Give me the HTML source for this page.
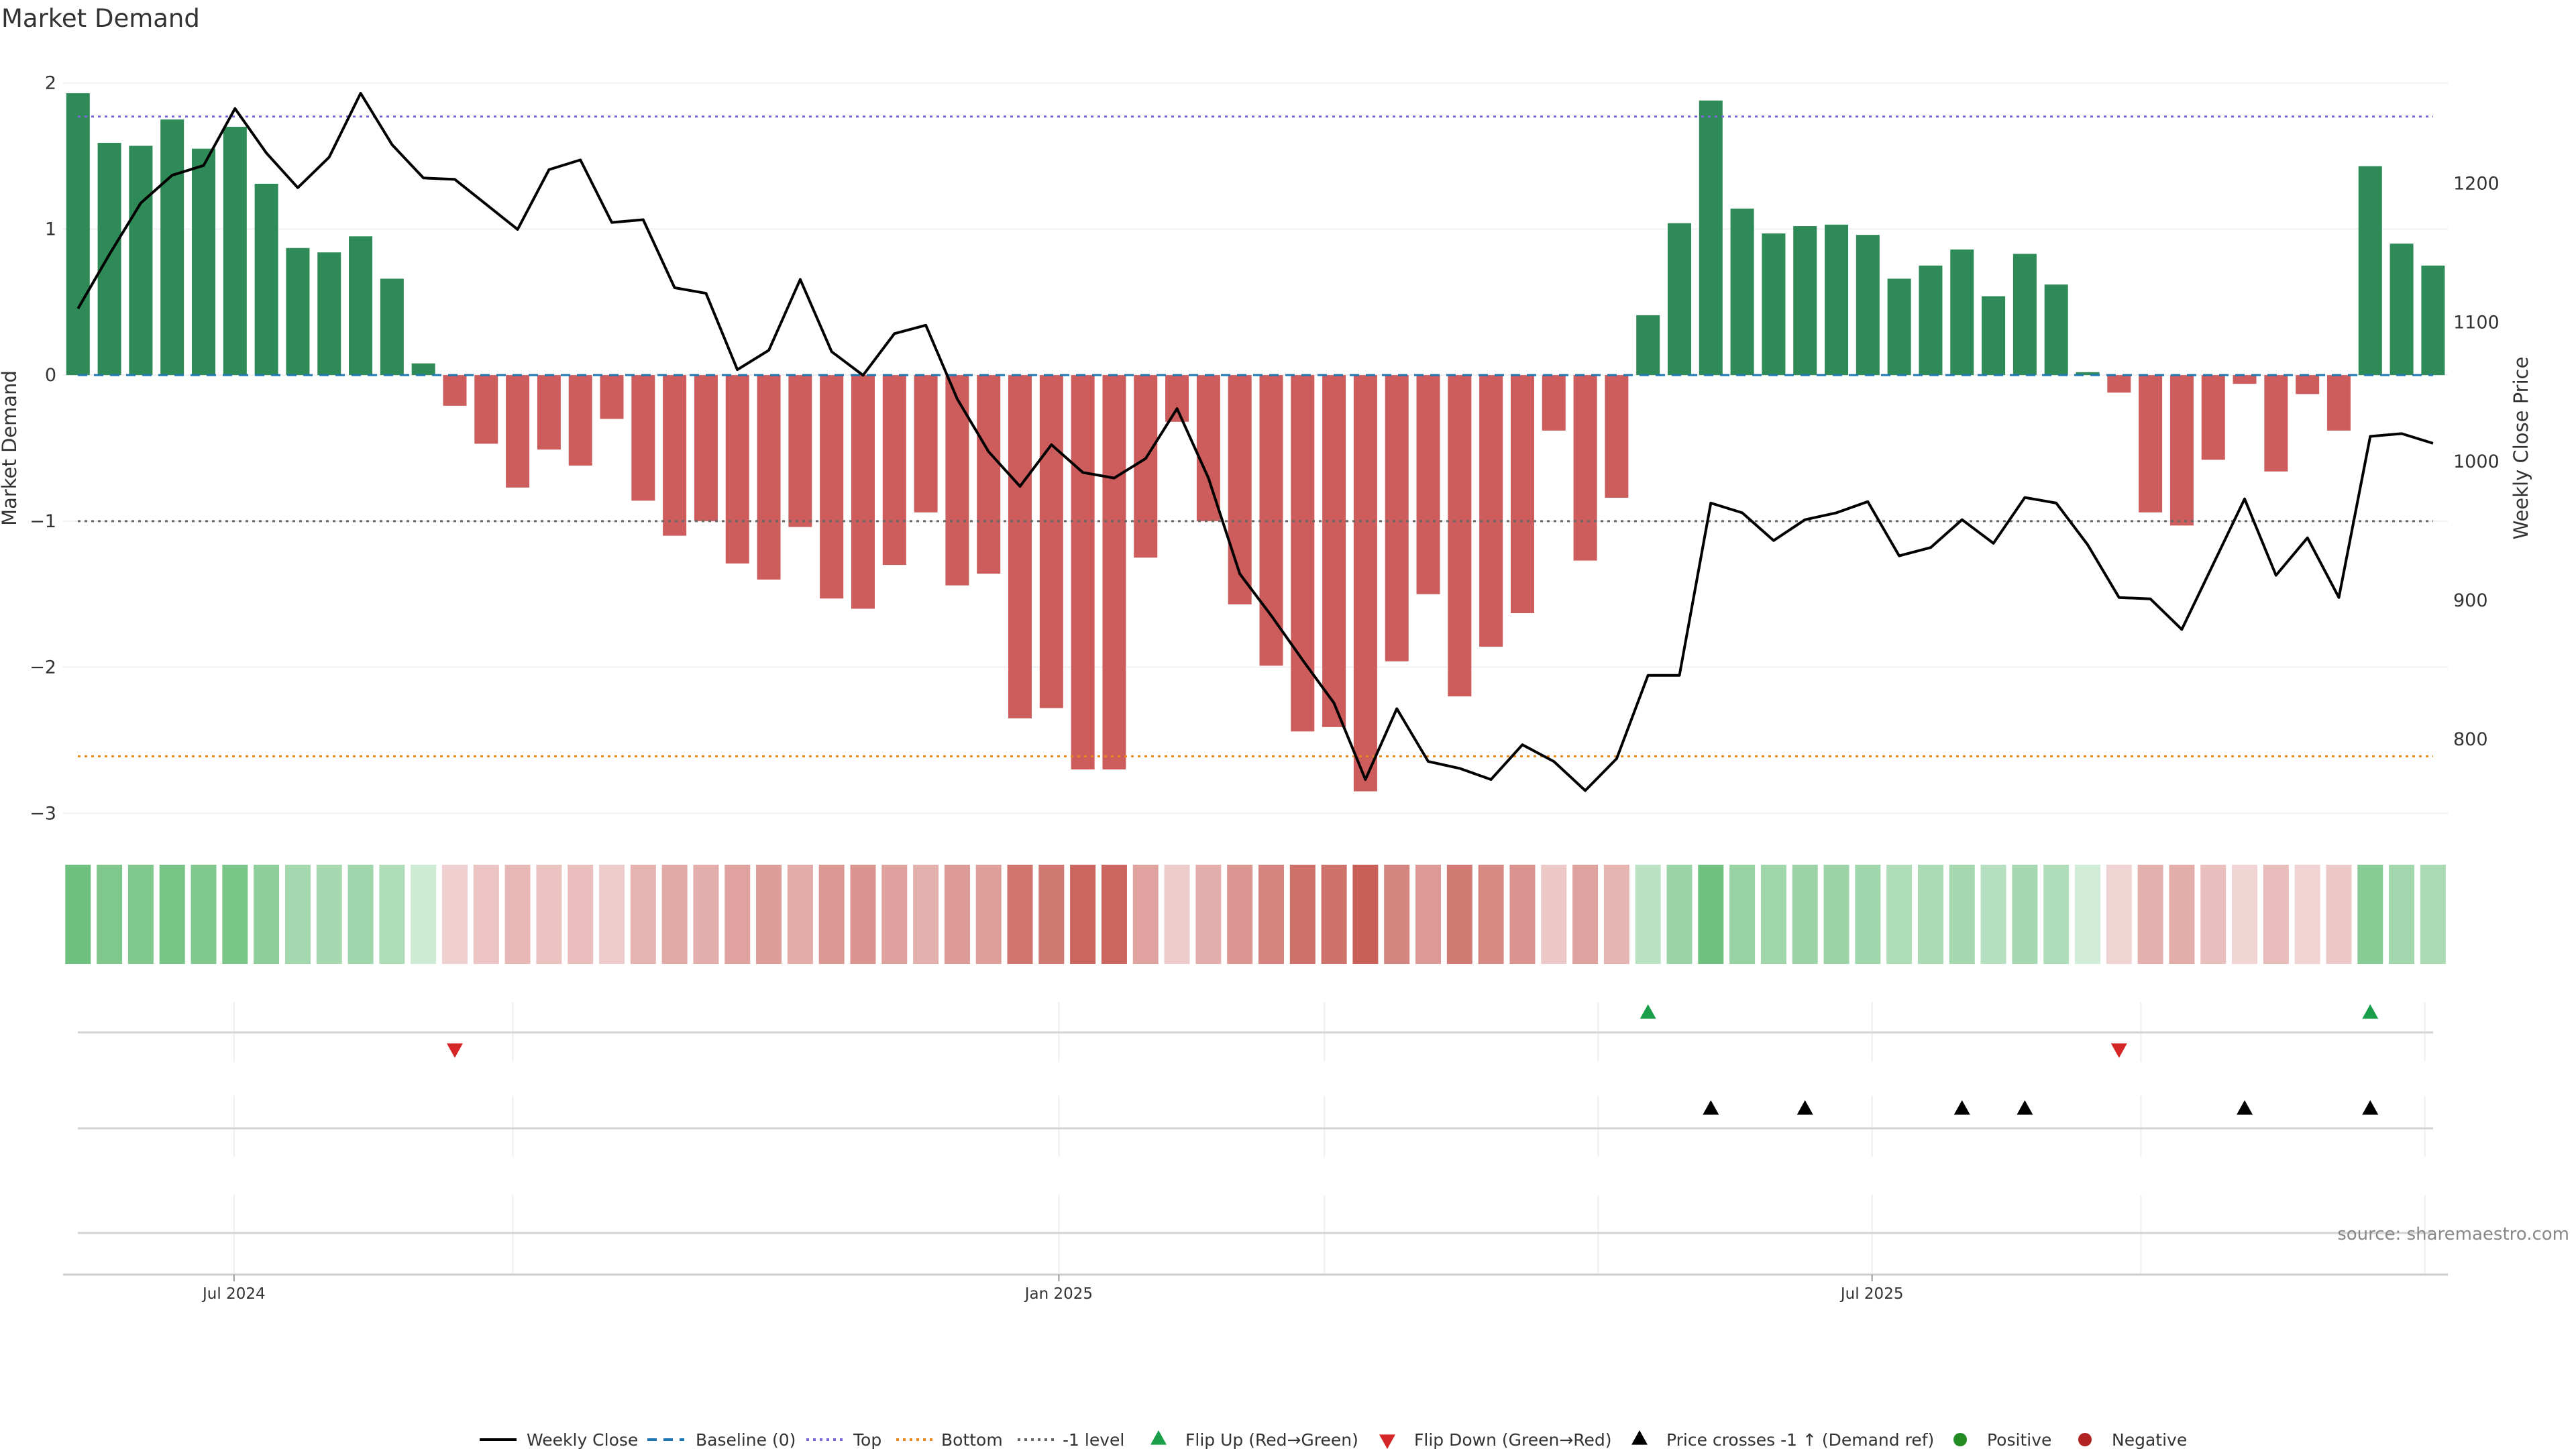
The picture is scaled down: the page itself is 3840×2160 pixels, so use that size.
<!DOCTYPE html>
<html><head><meta charset="utf-8">
<style>
html,body{margin:0;padding:0;background:#fff;}
svg{display:block;font-family:"DejaVu Sans","Liberation Sans",sans-serif;}
</style></head>
<body>
<svg id="chart" width="3840" height="2160" viewBox="0 0 3840 2160" xmlns="http://www.w3.org/2000/svg">
<text x="2" y="40" font-size="37" fill="#333">Market Demand</text>
<g id="main"></g>
</svg>
<script>
const demand=[1.93,1.59,1.57,1.75,1.55,1.70,1.31,0.87,0.84,0.95,0.66,0.08,-0.21,-0.47,-0.77,-0.51,-0.62,-0.30,-0.86,-1.10,-1.00,-1.29,-1.40,-1.04,-1.53,-1.60,-1.30,-0.94,-1.44,-1.36,-2.35,-2.28,-2.70,-2.70,-1.25,-0.32,-1.00,-1.57,-1.99,-2.44,-2.41,-2.85,-1.96,-1.50,-2.20,-1.86,-1.63,-0.38,-1.27,-0.84,0.41,1.04,1.88,1.14,0.97,1.02,1.03,0.96,0.66,0.75,0.86,0.54,0.83,0.62,0.02,-0.12,-0.94,-1.03,-0.58,-0.06,-0.66,-0.13,-0.38,1.43,0.90,0.75];
const price=[1110,1149,1186,1206,1213,1254,1222,1197,1219,1265,1228,1204,1203,1185,1167,1210,1217,1172,1174,1125,1121,1066,1080,1131,1079,1062,1092,1098,1045,1007,982,1012,992,988,1002,1038,988,919,889,857,826,771,822,784,779,771,796,784,763,786,846,846,970,963,943,958,963,971,932,938,958,941,974,970,940,902,901,879,926,973,918,945,902,1018,1020,1013];
const flipUp=[50,73];
const flipDown=[12,65];
const crosses=[52,55,60,62,69,73];
const leftTicks=[2,1,0,-1,-2,-3];
const rightTicks=[1200,1100,1000,900,800];
const xTickLabels=["Jul 2024","Jan 2025","Jul 2025"];
const xTickIdx=[5,31.3,57.2];
const topLevel=1.77, bottomLevel=-2.61, minusOne=-1;

const S=2.474;
const NS="http://www.w3.org/2000/svg";
const g=document.getElementById('main');
function el(t,a,txt){const e=document.createElementNS(NS,t);for(const k in a)e.setAttribute(k,a[k]);if(txt!==undefined)e.textContent=txt;g.appendChild(e);return e;}
const X0=94,X1=3649;
function xAt(i){return (47+i*18.92)*S;}
function yD(v){return 226*S - v*88*S;}
function yP(p){return (278-(p-1000)*0.837)*S;}

// gridlines
for(const t of leftTicks){
 const gl=el('line',{x1:X0,x2:X1,y1:yD(t),y2:yD(t),stroke:'#eef0f4','stroke-width':2});
 
 
 const tl=el('text',{x:84,y:yD(t)+9,'font-size':27,fill:'#333','text-anchor':'end'},t<0?'\u2212'+(-t):String(t));
 
 
}
for(const t of rightTicks){
 const tl=el('text',{x:3657,y:yP(t)+9,'font-size':27,fill:'#333'},String(t));
 
 
}
const ya=el('text',{x:24,y:yD(-0.5),'font-size':29,fill:'#333','text-anchor':'middle',transform:'rotate(-90 24 '+yD(-0.5)+')'},'Market Demand');


const yb=el('text',{x:3768,y:yD(-0.5),'font-size':29,fill:'#333','text-anchor':'middle',transform:'rotate(-90 3768 '+yD(-0.5)+')'},'Weekly Close Price');



// bars
const bw=35;
demand.forEach((v,i)=>{
 const y=Math.min(yD(v),yD(0)),h=Math.abs(yD(v)-yD(0));
 const b=el('rect',{x:xAt(i)-bw/2,y:y,width:bw,height:Math.max(h,1),fill:v>=0?'#2e8b57':'#cd5c5c'});
 
 
});
// levels
function hline(v,color,dash,name){const l=el('line',{x1:116,x2:3627,y1:yD(v),y2:yD(v),stroke:color,'stroke-width':3,'stroke-dasharray':dash});}
hline(0,'#1f77b4','14 10','baseline-line');
hline(topLevel,'#7b68d8','4 6','top-line');
hline(bottomLevel,'#e8871e','4 6','bottom-line');
hline(minusOne,'#666','4 6','minus-one-line');
// price line
const pts=price.map((p,i)=>xAt(i).toFixed(1)+','+yP(p).toFixed(1)).join(' ');
const pl=el('polyline',{points:pts,fill:'none',stroke:'#000','stroke-width':4,'stroke-linejoin':'round'});



// heat strip
function mix(a,b,t){return a.map((c,k)=>Math.round(c+(b[k]-c)*t));}
demand.forEach((v,i)=>{
 const t=Math.min(Math.abs(v)/2.85,1);
 let c;
 if(v>=0)c=mix([214,238,220],[106,190,122],Math.min(1,0.05+t*1.35));
 else c=mix([242,216,216],[200,96,88],Math.min(1,0.0+t*1.0));
 const r=el('rect',{x:xAt(i)-19,y:1289,width:38,height:148,fill:'rgb('+c.join(',')+')'});
 
 
});

// event panels
const vx=[141,309,638,798,963,1128,1290,1461];
function panel(lineY,gy0,gy1,name){
 for(const v of vx){const l=el('line',{x1:v*S,x2:v*S,y1:gy0,y2:gy1,stroke:'#eceff2','stroke-width':2});}
 const l=el('line',{x1:116,x2:3627,y1:lineY,y2:lineY,stroke:'#d3d3d3','stroke-width':3});
 
 
}
panel(1539,1494,1583,'flip-panel-axis');
panel(1682,1633,1724,'cross-panel-axis');
panel(1838,1781,1900,'empty-panel-axis');
function tri(cx,cy,up,color,name){const s=12;const p=up?[cx,cy-s,cx-s,cy+s*0.8,cx+s,cy+s*0.8]:[cx,cy+s,cx-s,cy-s*0.8,cx+s,cy-s*0.8];const t=el('polygon',{points:p.join(','),fill:color});}
flipUp.forEach(i=>tri(xAt(i),1509,true,'#1a9e4a','flip-up-marker'));
flipDown.forEach(i=>tri(xAt(i),1565,false,'#d62728','flip-down-marker'));
crosses.forEach(i=>tri(xAt(i),1652,true,'#000','price-cross-marker'));

// x axis
const xa=el('line',{x1:X0,x2:X1,y1:1900,y2:1900,stroke:'#ccc','stroke-width':3});


xTickLabels.forEach((lab,k)=>{
 const x=[141,638,1128][k]*S;
 const tk=el('line',{x1:x,x2:x,y1:1900,y2:1910,stroke:'#999','stroke-width':2});
 
 
 const t=el('text',{x:x,y:1936,'font-size':23,fill:'#333','text-anchor':'middle'},lab);
 
 
});
const src=el('text',{x:3830,y:1848,'font-size':26,fill:'#888','text-anchor':'end'},'source: sharemaestro.com');



// legend
const LY=2146;
function ltext(x,s){const t=el('text',{x:x,y:LY+9,'font-size':25,fill:'#333'},s);}
function lline(x,color,dash,w){const l=el('line',{x1:x,x2:x+55,y1:LY,y2:LY,stroke:color,'stroke-width':w,'stroke-dasharray':dash});}
lline(715,'#000','none',4);ltext(785,'Weekly Close');
lline(965,'#1f77b4','14 10',4);ltext(1037,'Baseline (0)');
lline(1202,'#7b68d8','4 6',4);ltext(1272,'Top');
lline(1336,'#e8871e','4 6',4);ltext(1403,'Bottom');
lline(1517,'#666','4 6',4);ltext(1584,'-1 level');
tri(1727,LY-2,true,'#1a9e4a','legend-flip-up');ltext(1767,'Flip Up (Red\u2192Green)');
tri(2068,LY+2,false,'#d62728','legend-flip-down');ltext(2108,'Flip Down (Green\u2192Red)');
tri(2444,LY-2,true,'#000','legend-price-cross');ltext(2484,'Price crosses -1 \u2191 (Demand ref)');
const c1=el('circle',{cx:2922,cy:LY,r:10,fill:'#228b22'});
ltext(2962,'Positive');
const c2=el('circle',{cx:3108,cy:LY,r:10,fill:'#b22222'});
ltext(3148,'Negative');
</script>
</body></html>
